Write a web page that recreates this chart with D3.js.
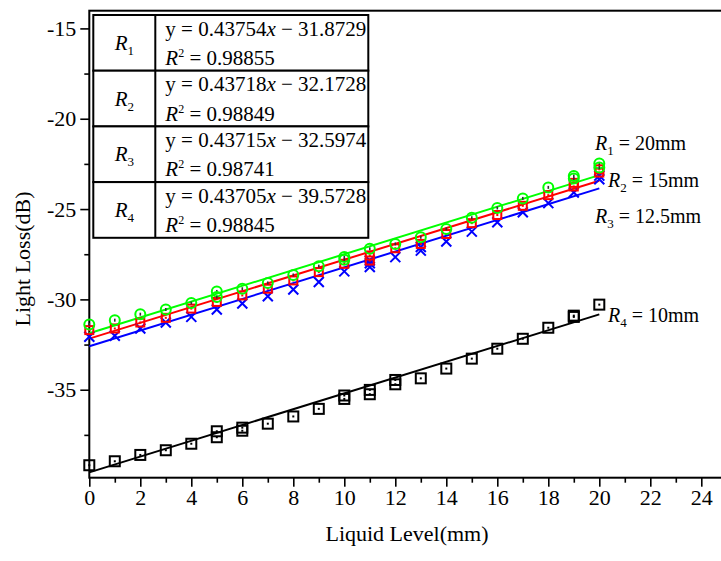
<!DOCTYPE html>
<html>
<head>
<meta charset="utf-8">
<script src="https://cdn.jsdelivr.net/npm/d3@7"></script>
<style>
  body { margin: 0; background: #fff; }
  svg { display: block; font-family: 'Liberation Serif', 'Times New Roman', serif; }
</style>
</head>
<body>
<svg class="chart" width="721" height="561"></svg>
<script>
// liquid level (mm)
let levels = d3.range(0, 21);

// light loss (dB), one per level
let r1Loss = [-31.39, -31.15, -30.82, -30.56, -30.20, -29.56, -29.41, -29.09, -28.65, -28.16, -27.66,
  -27.20, -26.93, -26.56, -26.10, -25.48, -24.94, -24.41, -23.80, -23.17, -22.48];
let r2Loss = [-31.70, -31.61, -31.28, -31.02, -30.51, -30.14, -29.78, -29.41, -28.95, -28.49, -28.03,
  -27.57, -27.17, -26.93, -26.38, -25.78, -25.33, -24.82, -24.23, -23.75, -22.98];
let r3Loss = [-32.07, -32.01, -31.61, -31.28, -30.97, -30.56, -30.23, -29.83, -29.45, -29.04, -28.45,
  -28.21, -27.66, -27.30, -26.80, -26.25, -25.73, -25.18, -24.67, -24.08, -23.35];
let r4Loss = [-39.18, -38.96, -38.61, -38.35, -37.99, -37.63, -37.27, -36.88, -36.48, -36.06, -35.51,
  -35.25, -34.70, -34.37, -33.83, -33.28, -32.73, -32.18, -31.57, -30.97, -30.29];

// repeated measurements that show as a second marker
let r1Repeat = [[5, -29.87], [10, -27.80], [19, -23.31], [20, -22.70]];
let r2Repeat = [[11, -27.85], [19, -23.55], [20, -22.80]];
let r3Repeat = [[11, -28.00], [11, -27.85], [13, -27.10], [20, -23.15]];
let r4Repeat = [[5, -37.30], [6, -37.10], [10, -35.32], [11, -35.01], [12, -34.46], [19, -30.90]];

// linear fits from the table
let slopes = [0.43754, 0.43718, 0.43715, 0.43705];
let intercepts = [-31.8729, -32.1728, -32.5974, -39.5728];
let rSquared = ['0.98855', '0.98849', '0.98741', '0.98845'];
let slopeText = ['0.43754', '0.43718', '0.43715', '0.43705'];
let interceptText = ['31.8729', '32.1728', '32.5974', '39.5728'];

// radius labels
let radiusIds = ['1', '2', '3', '4'];
let radiusText = ['20mm', '15mm', '12.5mm', '10mm'];

let xTicks = d3.range(0, 25, 2);
let yTicks = [-35, -30, -25, -20, -15];

let colors = ['#00ff00', '#ff0000', '#0000ff', '#000000'];

let svg = d3.select('.chart');

let xScale = d3.scaleLinear()
  .domain([0, 25])
  .range([89.3, 726.8]);

let yScale = d3.scaleLinear()
  .domain([-39.87, -14.02])
  .range([477.7, 10.7]);

let tickFont = 22, titleFont = 22, tableFont = 21, labelFont = 20;

// frame (right edge falls outside the picture)
svg.append('rect')
  .attr('x', xScale(0))
  .attr('y', yScale(-14.02))
  .attr('width', xScale(25) - xScale(0))
  .attr('height', yScale(-39.87) - yScale(-14.02))
  .attr('fill', 'none')
  .attr('stroke', '#000')
  .attr('stroke-width', 2);

// x axis
let xAxis = svg.append('g')
  .attr('transform', 'translate(0,' + yScale(-39.87) + ')');

xAxis.append('g')
  .call(d3.axisBottom(xScale).tickValues(d3.range(1, 25, 2)).tickSize(5).tickFormat(''))
  .call((g) => g.select('.domain').remove());

xAxis.append('g')
  .call(d3.axisBottom(xScale).tickValues(xTicks).tickSize(9).tickPadding(3).tickFormat(d3.format('d')))
  .call((g) => g.select('.domain').remove());

// y axis
let yAxis = svg.append('g')
  .attr('transform', 'translate(' + xScale(0) + ',0)');

yAxis.append('g')
  .call(d3.axisLeft(yScale).tickValues([-37.5, -32.5, -27.5, -22.5, -17.5]).tickSize(5).tickFormat(''))
  .call((g) => g.select('.domain').remove());

yAxis.append('g')
  .call(d3.axisLeft(yScale).tickValues(yTicks).tickSize(9).tickPadding(4).tickFormat((d) => '-' + Math.abs(d)))
  .call((g) => g.select('.domain').remove());

svg.selectAll('.tick line')
  .attr('stroke', '#000')
  .attr('stroke-width', 1.6);

svg.selectAll('.tick text')
  .attr('fill', '#000')
  .style('font-size', tickFont + 'px')
  .style('font-family', "'Liberation Serif', 'Times New Roman', serif");

// axis titles
svg.append('text')
  .attr('x', 407)
  .attr('y', 541)
  .attr('text-anchor', 'middle')
  .style('font-size', titleFont + 'px')
  .text('Liquid Level(mm)');

svg.append('text')
  .attr('transform', 'translate(30,259) rotate(-90)')
  .attr('text-anchor', 'middle')
  .style('font-size', titleFont + 'px')
  .text('Light Loss(dB)');

// fit lines
let fits = slopes.map((s, i) => {
  return {slope: s, intercept: intercepts[i], color: colors[i]};
});

svg.append('g')
  .selectAll('line')
  .data(fits)
  .enter()
  .append('line')
  .attr('x1', xScale(0))
  .attr('x2', xScale(20))
  .attr('y1', (d) => yScale(d.intercept))
  .attr('y2', (d) => yScale(d.intercept + d.slope * 20))
  .attr('stroke', (d) => d.color)
  .attr('stroke-width', 2);

// data points
let toPoints = (values, repeats) => values.map((v, i) => [levels[i], v]).concat(repeats);

let pointsR1 = toPoints(r1Loss, r1Repeat);
let pointsR2 = toPoints(r2Loss, r2Repeat);
let pointsR3 = toPoints(r3Loss, r3Repeat);
let pointsR4 = toPoints(r4Loss, r4Repeat);

// R4: black open squares with a centre dot
let r4g = svg.append('g').selectAll('g')
  .data(pointsR4)
  .enter()
  .append('g')
  .attr('transform', (d) => 'translate(' + xScale(d[0]) + ',' + yScale(d[1]) + ')');
r4g.append('rect')
  .attr('x', -5).attr('y', -5).attr('width', 10).attr('height', 10)
  .attr('fill', 'none').attr('stroke', '#000').attr('stroke-width', 2);
r4g.append('rect')
  .attr('x', -1).attr('y', -1).attr('width', 2).attr('height', 2)
  .attr('fill', '#000');

// R3: blue crosses
svg.append('g').selectAll('path')
  .data(pointsR3)
  .enter()
  .append('path')
  .attr('transform', (d) => 'translate(' + xScale(d[0]) + ',' + yScale(d[1]) + ')')
  .attr('d', 'M-5,-5L5,5M-5,5L5,-5')
  .attr('stroke', '#0000ff')
  .attr('stroke-width', 2)
  .attr('fill', 'none');

// R2: red open squares
let r2g = svg.append('g').selectAll('g')
  .data(pointsR2)
  .enter()
  .append('g')
  .attr('transform', (d) => 'translate(' + xScale(d[0]) + ',' + yScale(d[1]) + ')');
r2g.append('rect')
  .attr('x', -4).attr('y', -4).attr('width', 8).attr('height', 8)
  .attr('fill', 'none').attr('stroke', '#ff0000').attr('stroke-width', 2);
r2g.append('rect')
  .attr('x', -1).attr('y', -1).attr('width', 2).attr('height', 2)
  .attr('fill', '#ff0000');

// R1: green open circles
let r1g = svg.append('g').selectAll('g')
  .data(pointsR1)
  .enter()
  .append('g')
  .attr('transform', (d) => 'translate(' + xScale(d[0]) + ',' + yScale(d[1]) + ')');
r1g.append('circle')
  .attr('r', 5)
  .attr('fill', 'none').attr('stroke', '#00ff00').attr('stroke-width', 2);
r1g.append('rect')
  .attr('x', -0.8).attr('y', -1.5).attr('width', 1.6).attr('height', 3)
  .attr('fill', '#333');

// fit table
let table = svg.append('g');
let tableX = 93.3, tableY = 15, rowH = 55.7, colW = [62, 213];

table.selectAll('.row')
  .data(radiusIds)
  .enter()
  .append('rect')
  .attr('class', 'row')
  .attr('x', tableX)
  .attr('y', (d, i) => tableY + i * rowH)
  .attr('width', colW[0] + colW[1])
  .attr('height', rowH)
  .attr('fill', '#fff')
  .attr('stroke', '#000')
  .attr('stroke-width', 2);

table.append('line')
  .attr('x1', tableX + colW[0]).attr('x2', tableX + colW[0])
  .attr('y1', tableY).attr('y2', tableY + 4 * rowH)
  .attr('stroke', '#000').attr('stroke-width', 2);

let rowText = table.selectAll('.cell')
  .data(radiusIds)
  .enter()
  .append('g')
  .attr('class', 'cell')
  .attr('transform', (d, i) => 'translate(' + tableX + ',' + (tableY + i * rowH) + ')')
  .style('font-size', tableFont + 'px');

let nameText = rowText.append('text')
  .attr('x', colW[0] / 2)
  .attr('y', rowH / 2 + 7)
  .attr('text-anchor', 'middle');
nameText.append('tspan').style('font-style', 'italic').text('R');
nameText.append('tspan').attr('dy', 5).style('font-size', '13px').text((d) => d);

let eqText = rowText.append('text')
  .attr('x', colW[0] + 10)
  .attr('y', 20.5);
eqText.append('tspan').text((d, i) => 'y = ' + slopeText[i]);
eqText.append('tspan').style('font-style', 'italic').text('x');
eqText.append('tspan').text((d, i) => ' \u2212 ' + interceptText[i]);

let r2Text = rowText.append('text')
  .attr('x', colW[0] + 10)
  .attr('y', 50);
r2Text.append('tspan').style('font-style', 'italic').text('R');
r2Text.append('tspan').attr('dy', -8).style('font-size', '12px').text('2');
r2Text.append('tspan').attr('dy', 8).text((d, i) => ' = ' + rSquared[i]);

// radius labels at the line ends
let labelPos = [[595, 150], [608, 187], [595, 223], [608, 322]];

let labels = svg.append('g')
  .selectAll('text')
  .data(radiusIds)
  .enter()
  .append('text')
  .attr('x', (d, i) => labelPos[i][0])
  .attr('y', (d, i) => labelPos[i][1])
  .style('font-size', labelFont + 'px');
labels.append('tspan').style('font-style', 'italic').text('R');
labels.append('tspan').attr('dy', 5).style('font-size', '13px').text((d) => d);
labels.append('tspan').attr('dy', -5).text((d, i) => ' = ' + radiusText[i]);
</script>
</body>
</html>
